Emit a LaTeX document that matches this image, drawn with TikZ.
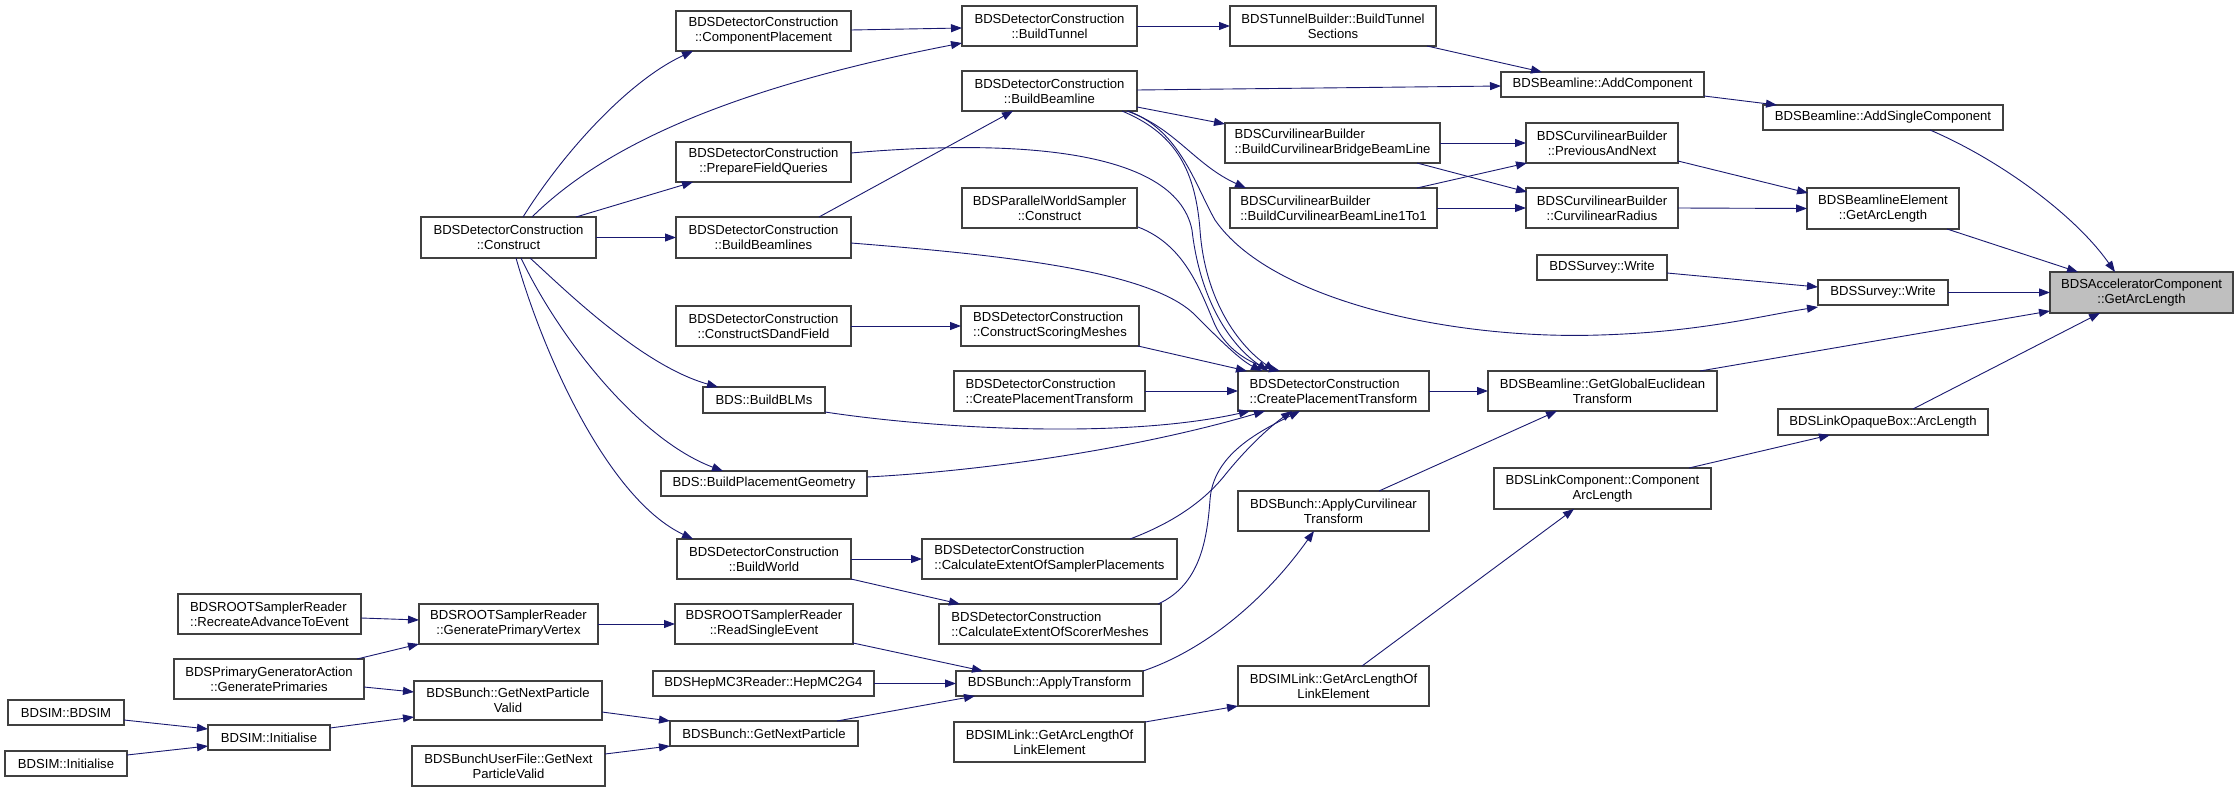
\documentclass[tikz,border=0pt]{standalone}
\usepackage{fontspec}
\setmainfont{Liberation Sans}
\usetikzlibrary{arrows.meta,calc}
\definecolor{accgray}{HTML}{BFBFBF}
\definecolor{edgecol}{HTML}{191970}
\definecolor{boxcol}{HTML}{404040}
\begin{document}
\begin{tikzpicture}[x=1pt,y=-1pt,
  box/.style 2 args={draw=boxcol, line width=1.1pt, fill=white, inner sep=0pt, outer sep=0pt,
    minimum width=#1pt, minimum height=#2pt, align=center, font=\fontsize{13.1}{15}\selectfont},
  lft/.style={align=left},
  call/.style={draw=edgecol, line width=0.9pt, -{Triangle[length=11pt,width=8pt]}}]
\useasboundingbox[fill=white] (0,0) rectangle (2239,792);
% nodes
\node[box={183}{41},fill=accgray] (acc) at (2141.5,292.5) {BDSAcceleratorComponent\\::GetArcLength};
\node[box={240}{25}] (addsingle) at (1883,117.5) {BDSBeamline::AddSingleComponent};
\node[box={152}{41}] (bleGetArc) at (1883,208.5) {BDSBeamlineElement\\::GetArcLength};
\node[box={130}{25}] (surveyR) at (1883,292.5) {BDSSurvey::Write};
\node[box={210}{26}] (linkOpaque) at (1883,422) {BDSLinkOpaqueBox::ArcLength};
\node[box={203}{25}] (addComp) at (1602.5,84.5) {BDSBeamline::AddComponent};
\node[box={152}{40}] (prevNext) at (1602,143) {BDSCurvilinearBuilder\\::PreviousAndNext};
\node[box={152}{40}] (curvRadius) at (1602,208) {BDSCurvilinearBuilder\\::CurvilinearRadius};
\node[box={130}{25}] (surveyL) at (1602,267.5) {BDSSurvey::Write};
\node[box={229}{40}] (globalEuc) at (1602.5,391) {BDSBeamline::GetGlobalEuclidean\\Transform};
\node[box={217}{41}] (linkComp) at (1602.5,488.5) {BDSLinkComponent::Component\\ArcLength};
\node[box={206}{40}] (tunnelSections) at (1333,26) {BDSTunnelBuilder::BuildTunnel\\Sections};
\node[box={215}{40},lft] (bridge) at (1332.5,143) {BDSCurvilinearBuilder\\::BuildCurvilinearBridgeBeamLine};
\node[box={207}{40},lft] (oneToOne) at (1333.5,208) {BDSCurvilinearBuilder\\::BuildCurvilinearBeamLine1To1};
\node[box={191}{40},lft] (cpt) at (1333.5,391) {BDSDetectorConstruction\\::CreatePlacementTransform};
\node[box={191}{40}] (applyCurv) at (1333.5,511) {BDSBunch::ApplyCurvilinear\\Transform};
\node[box={191}{40}] (simlinkU) at (1333.5,686) {BDSIMLink::GetArcLengthOf\\LinkElement};
\node[box={175}{40}] (buildTunnel) at (1049.5,26) {BDSDetectorConstruction\\::BuildTunnel};
\node[box={175}{40}] (buildBeamline) at (1049.5,91) {BDSDetectorConstruction\\::BuildBeamline};
\node[box={175}{40}] (pws) at (1049.5,208) {BDSParallelWorldSampler\\::Construct};
\node[box={178}{40},lft] (scoring) at (1050,326) {BDSDetectorConstruction\\::ConstructScoringMeshes};
\node[box={191}{40},lft] (cptL) at (1049.5,391) {BDSDetectorConstruction\\::CreatePlacementTransform};
\node[box={255}{40},lft] (samplerPl) at (1049.5,559) {BDSDetectorConstruction\\::CalculateExtentOfSamplerPlacements};
\node[box={222}{40},lft] (scorerM) at (1050,624) {BDSDetectorConstruction\\::CalculateExtentOfScorerMeshes};
\node[box={187}{25}] (applyT) at (1049.5,683.5) {BDSBunch::ApplyTransform};
\node[box={191}{40}] (simlinkL) at (1049.5,742) {BDSIMLink::GetArcLengthOf\\LinkElement};
\node[box={175}{40}] (compPlace) at (763.5,31) {BDSDetectorConstruction\\::ComponentPlacement};
\node[box={175}{40}] (prepField) at (763.5,162) {BDSDetectorConstruction\\::PrepareFieldQueries};
\node[box={175}{41}] (buildBeamlines) at (763.5,237.5) {BDSDetectorConstruction\\::BuildBeamlines};
\node[box={175}{40}] (sdField) at (763.5,326) {BDSDetectorConstruction\\::ConstructSDandField};
\node[box={122}{26}] (blms) at (764,400) {BDS::BuildBLMs};
\node[box={206}{25}] (placeGeom) at (764,483.5) {BDS::BuildPlacementGeometry};
\node[box={174}{40}] (buildWorld) at (764,559) {BDSDetectorConstruction\\::BuildWorld};
\node[box={178}{40}] (readSingle) at (764,624) {BDSROOTSamplerReader\\::ReadSingleEvent};
\node[box={221}{25}] (hepmc) at (763.5,683.5) {BDSHepMC3Reader::HepMC2G4};
\node[box={188}{25}] (getNext) at (764,733.5) {BDSBunch::GetNextParticle};
\node[box={175}{41}] (construct) at (508.5,237.5) {BDSDetectorConstruction\\::Construct};
\node[box={179}{40}] (genVertex) at (508.5,624) {BDSROOTSamplerReader\\::GeneratePrimaryVertex};
\node[box={188}{39}] (gnpValid) at (508,700.5) {BDSBunch::GetNextParticle\\Valid};
\node[box={193}{40}] (userFile) at (508.5,766) {BDSBunchUserFile::GetNext\\ParticleValid};
\node[box={183}{40},lft] (recreate) at (269.5,614) {BDSROOTSamplerReader\\::RecreateAdvanceToEvent};
\node[box={190}{40}] (genPrim) at (269,679) {BDSPrimaryGeneratorAction\\::GeneratePrimaries};
\node[box={122}{25}] (initM) at (269,737.5) {BDSIM::Initialise};
\node[box={116}{25}] (bdsim) at (66,712.5) {BDSIM::BDSIM};
\node[box={122}{25}] (initL) at (66,763.5) {BDSIM::Initialise};
% edges into target
\draw[call] ($(addsingle)+(47,12.5)$) .. controls (2000,160) and (2075,215) .. ($(acc)+(-26.5,-20.5)$);
\draw[call] ($(bleGetArc)+(64,20.5)$) -- ($(acc)+(-63.5,-20.5)$);
\draw[call] (surveyR.east) -- (acc.west);
\draw[call] ($(globalEuc)+(97.5,-20)$) -- ($(acc)+(-91.5,18.5)$);
\draw[call] ($(linkOpaque)+(30,-13)$) -- ($(acc)+(-41.5,20.5)$);
% column 7
\draw[call] ($(addComp)+(101.5,11.5)$) -- ($(addsingle)+(-106,-12.5)$);
\draw[call] ($(prevNext)+(76,18)$) -- ($(bleGetArc)+(-75,-15.5)$);
\draw[call] (curvRadius.east) -- (bleGetArc.west);
\draw[call] ($(surveyL)+(65,5.5)$) -- ($(surveyR)+(-65,-5.5)$);
\draw[call] ($(buildBeamline)+(78.5,20)$) .. controls (1180,130) and (1195,185) .. (1215,220)
   .. controls (1270,300) and (1450,340) .. (1600,335)
   .. controls (1700,332) and (1760,316) .. ($(surveyR)+(-65,14.5)$);
\draw[call] (cpt.east) -- (globalEuc.west);
\draw[call] ($(applyCurv)+(45.5,-20)$) -- ($(globalEuc)+(-45.5,20)$);
\draw[call] ($(linkComp)+(86.5,-20.5)$) -- ($(linkOpaque)+(-53,13)$);
\draw[call] ($(simlinkU)+(28.5,-20)$) -- ($(linkComp)+(-28.5,20.5)$);
% into cpt
\draw[call] ($(prepField)+(87.5,-9)$) .. controls (1000,140) and (1175,145) .. (1192,230)
   .. controls (1200,300) and (1230,345) .. ($(cpt)+(-65.5,-20)$);
\draw[call] ($(buildBeamline)+(72.5,20)$) .. controls (1172,132) and (1195,165) .. (1200,230)
   .. controls (1205,300) and (1238,345) .. ($(cpt)+(-58.5,-20)$);
\draw[call] ($(pws)+(88.5,19)$) .. controls (1185,245) and (1200,290) .. (1215,325)
   .. controls (1228,352) and (1252,364) .. ($(cpt)+(-53.5,-20)$);
\draw[call] ($(buildBeamlines)+(87.5,5.5)$) .. controls (1000,255) and (1150,270) .. (1195,315)
   .. controls (1220,340) and (1240,360) .. ($(cpt)+(-71.5,-20)$);
\draw[call] ($(scoring)+(88,20)$) -- ($(cpt)+(-86.5,-20)$);
\draw[call] (cptL.east) -- (cpt.west);
\draw[call] ($(blms)+(61,12)$) .. controls (930,428) and (1120,440) .. ($(cpt)+(-83.5,20)$);
\draw[call] ($(placeGeom)+(103,-6.5)$) .. controls (1000,470) and (1150,445) .. ($(cpt)+(-68.5,20)$);
\draw[call] ($(samplerPl)+(80.5,-20)$) .. controls (1175,522) and (1205,500) .. (1225,475)
   .. controls (1245,450) and (1268,428) .. ($(cpt)+(-41.5,20)$);
\draw[call] ($(scorerM)+(108,-20)$) .. controls (1200,585) and (1207,540) .. (1210,500)
   .. controls (1213,455) and (1258,432) .. ($(cpt)+(-33.5,20)$);
\draw[call] ($(applyT)+(93.5,-12.5)$) .. controls (1205,650) and (1265,600) .. ($(applyCurv)+(-19.5,20)$);
\draw[call] ($(simlinkL)+(95.5,-20)$) -- ($(simlinkU)+(-95.5,20)$);
% column 4-5
\draw[call] ($(compPlace)+(87.5,-1)$) -- ($(buildTunnel)+(-87.5,2)$);
\draw[call] (buildTunnel.east) -- (tunnelSections.west);
\draw[call] ($(tunnelSections)+(94,20)$) -- ($(addComp)+(-60.5,-12.5)$);
\draw[call] ($(buildBeamline)+(87.5,-1)$) -- ($(addComp)+(-101.5,1.5)$);
\draw[call] ($(buildBeamline)+(87.5,16)$) -- ($(bridge)+(-107.5,-19)$);
\draw[call] ($(buildBeamline)+(77.5,20)$) .. controls (1175,128) and (1195,165) .. ($(oneToOne)+(-87.5,-20)$);
\draw[call] (bridge.east) -- (prevNext.west);
\draw[call] ($(bridge)+(84.5,20)$) -- ($(curvRadius)+(-75,-16)$);
\draw[call] ($(oneToOne)+(83.5,-20)$) -- ($(prevNext)+(-75,20)$);
\draw[call] (oneToOne.east) -- (curvRadius.west);
\draw[call] (sdField.east) -- (scoring.west);
\draw[call] (buildWorld.east) -- (samplerPl.west);
\draw[call] ($(buildWorld)+(87,20)$) -- ($(scorerM)+(-90,-20)$);
\draw[call] ($(readSingle)+(89,19)$) -- ($(applyT)+(-66.5,-12.5)$);
\draw[call] (hepmc.east) -- (applyT.west);
\draw[call] ($(getNext)+(73,-12.5)$) -- ($(applyT)+(-74.5,12.5)$);
% from construct
\draw[call] ($(construct)+(23.5,-20.5)$) .. controls (600,150) and (720,90) .. ($(buildTunnel)+(-87.5,17)$);
\draw[call] ($(construct)+(14.5,-20.5)$) .. controls (565,150) and (630,80) .. ($(compPlace)+(-70.5,20)$);
\draw[call] ($(construct)+(67.5,-20.5)$) -- ($(prepField)+(-70.5,20)$);
\draw[call] (construct.east) -- (buildBeamlines.west);
\draw[call] ($(buildBeamlines)+(55.5,-20.5)$) -- ($(buildBeamline)+(-36.5,20)$);
\draw[call] ($(construct)+(21.5,20.5)$) .. controls (560,285) and (640,365) .. ($(blms)+(-46,-13)$);
\draw[call] ($(construct)+(12.5,20.5)$) .. controls (560,340) and (640,440) .. ($(placeGeom)+(-41,-12.5)$);
\draw[call] ($(construct)+(7.5,20.5)$) .. controls (545,360) and (610,500) .. ($(buildWorld)+(-71,-20)$);
% lower left
\draw[call] (genVertex.east) -- (readSingle.west);
\draw[call] ($(recreate)+(91.5,4)$) -- ($(genVertex)+(-89.5,-4)$);
\draw[call] ($(genPrim)+(88,-20)$) -- ($(genVertex)+(-89.5,20)$);
\draw[call] ($(genPrim)+(95,8)$) -- ($(gnpValid)+(-94,-8.5)$);
\draw[call] ($(initM)+(61,-9.5)$) -- ($(gnpValid)+(-94,16.5)$);
\draw[call] ($(bdsim)+(58,7.5)$) -- ($(initM)+(-61,-8.5)$);
\draw[call] ($(initL)+(61,-8.5)$) -- ($(initM)+(-61,8.5)$);
\draw[call] ($(gnpValid)+(94,11.5)$) -- ($(getNext)+(-94,-12.5)$);
\draw[call] ($(userFile)+(96.5,-12)$) -- ($(getNext)+(-94,12.5)$);
\end{tikzpicture}
\end{document}
